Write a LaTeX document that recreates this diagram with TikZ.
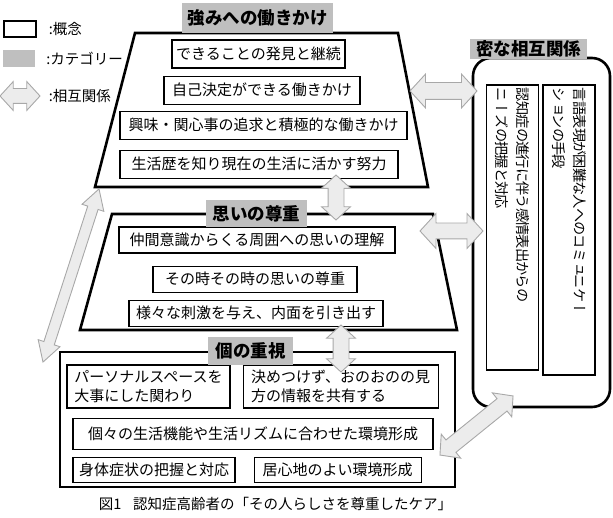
\documentclass[tikz,border=0pt]{standalone}
\usepackage{fontspec}
\setmainfont{Noto Sans CJK JP}
\newfontfamily\vjp[Vertical=RotatedGlyphs,LetterSpace=-6]{Noto Sans CJK JP}
\usetikzlibrary{positioning,shapes.arrows}
\definecolor{catgray}{HTML}{BFBFBF}
\definecolor{arrfill}{HTML}{ECECEC}
\definecolor{arredge}{HTML}{A8A8A8}
\tikzset{
  frame/.style={draw,line width=2.6pt},
  box/.style={draw,line width=1.1pt,fill=white,inner sep=0pt,minimum height=28pt,font=\fontsize{15}{19}\selectfont},
  vbox/.style={box,rotate=-90,align=left,inner xsep=3pt,minimum height=52pt,font=\vjp\fontsize{14.2}{21}\selectfont},
  cat/.style={fill=catgray,inner sep=0pt,font=\bfseries\fontsize{17.5}{20}\selectfont},
  lgd/.style={inner sep=0pt,font=\fontsize{14.5}{16}\selectfont},
  dbl/.style={double arrow,draw=arredge,fill=arrfill,line width=0.9pt,inner xsep=0pt,double arrow tip angle=95},
}
\begin{document}
\begin{tikzpicture}[x=1pt,y=-1pt]
\useasboundingbox (0,0) rectangle (613,518);
\node[draw,line width=1.1pt,minimum width=32pt,minimum height=16pt,inner sep=0pt] (k1) at (20,29) {};
\node[lgd,right=12pt of k1] (k1t) {:概念};
\node[fill=catgray,minimum width=32pt,minimum height=17pt,inner sep=0pt] (k2) at (19,58.5) {};
\node[lgd,right=11pt of k2] (k2t) {:カテゴリー};
\node[dbl,minimum height=40pt,inner ysep=7pt,double arrow head extend=7pt] (k3) at (20,96) {};
\node[lgd,right=8pt of k3] (k3t) {:相互関係};
\draw[frame] (135,33) -- (398,33) -- (428,187) -- (95,187) -- cycle;
\draw[frame] (112,214) -- (433,214) -- (457,330) -- (80,330) -- cycle;
\draw[frame] (60,352) rectangle (455,487);
\node[frame,rounded corners=18pt,minimum width=137pt,minimum height=349pt] (rel) at (541.5,232.5) {};
\node[box,minimum width=173pt] (s1) at (258.5,54) {できることの発見と継続};
\node[box,minimum width=196pt,below=7pt of s1,xshift=3.5pt] (s2) {自己決定ができる働きかけ};
\node[box,minimum width=287pt,below=6pt of s2,xshift=1.5pt] (s3) {興味・関心事の追求と積極的な働きかけ};
\node[box,minimum width=278pt,below=10pt of s3,xshift=-4.5pt] (s4) {生活歴を知り現在の生活に活かす努力};
\node[box,minimum width=276pt,minimum height=26pt] (m1) at (257,240) {仲間意識からくる周囲への思いの理解};
\node[box,minimum width=204pt,minimum height=26pt,below=12pt of m1,xshift=-2pt] (m2) {その時その時の思いの尊重};
\node[box,minimum width=254pt,minimum height=26pt,below=7pt of m2,xshift=1pt] (m3) {様々な刺激を与え、内面を引き出す};
\node[box,minimum width=163pt,minimum height=43pt,align=left,font=\fontsize{15}{18.5}\selectfont] (b1) at (148.5,386.5) {パーソナルスペースを\\大事にした関わり};
\node[box,minimum width=195pt,minimum height=43pt,align=left,font=\fontsize{15}{18.5}\selectfont,right=12pt of b1] (b2) {決めつけず、おのおのの見\\方の情報を共有する};
\node[box,minimum width=360pt,minimum height=31pt,below right=9pt and 6pt of b1.south west] (b3) {個々の生活機能や生活リズムに合わせた環境形成};
\node[box,minimum width=162pt,minimum height=25pt,below right=7pt and 0pt of b3.south west] (b4) {身体症状の把握と対応};
\node[box,minimum width=167pt,minimum height=25pt,right=18pt of b4] (b5) {居心地のよい環境形成};
\node[vbox,minimum width=290pt,text width=284pt] (va) at (569,230) {言語表現が困難な人へのコミュニケー\\ションの手段};
\node[vbox,minimum width=285pt,text width=279pt] (vb) at (512.5,227.5) {認知症の進行に伴う感情表出からの\\ニーズの把握と対応};
\node[cat,minimum width=151pt,minimum height=30pt] (c1) at (257.5,18) {強みへの働きかけ};
\node[cat,minimum width=101pt,minimum height=27pt] (c2) at (256.5,213.5) {思いの尊重};
\node[cat,minimum width=85pt,minimum height=28pt] (c3) at (250.5,351) {個の重視};
\node[cat,minimum width=117pt,minimum height=20pt] (c4) at (528.5,49) {密な相互関係};
\coordinate (p1) at (410,91); \coordinate (q1) at (477,91);
\coordinate (p2) at (336,175); \coordinate (q2) at (336,220);
\coordinate (p3) at (420,231); \coordinate (q3) at (483,231);
\coordinate (p4) at (341,325); \coordinate (q4) at (341,372);
\coordinate (p5) at (440,455); \coordinate (q5) at (513,396);
\coordinate (p6) at (43,362); \coordinate (q6) at (99,189);
\path (p1) -- (q1) node[dbl,midway,sloped,minimum height=67pt,inner ysep=8pt,double arrow head extend=8.5pt] (h1) {};
\path (p2) -- (q2) node[dbl,midway,sloped,minimum height=45pt,inner ysep=7.5pt,double arrow head extend=6.5pt] (h2) {};
\path (p3) -- (q3) node[dbl,midway,sloped,minimum height=63pt,inner ysep=7.5pt,double arrow head extend=9.5pt] (h3) {};
\path (p4) -- (q4) node[dbl,midway,sloped,minimum height=47pt,inner ysep=7.5pt,double arrow head extend=6.5pt] (h4) {};
\path (p5) -- (q5) node[dbl,midway,sloped,minimum height=94pt,inner ysep=7.5pt,double arrow head extend=7.5pt] (h5) {};
\path (p6) -- (q6) node[dbl,midway,sloped,minimum height=182pt,inner ysep=5pt,double arrow head extend=6pt,double arrow tip angle=60] (h6) {};
\node[font=\fontsize{14.5}{16}\selectfont] (cap) at (275.5,504) {図1\hspace{0.8em}認知症高齢者の「その人らしさを尊重したケア」};
\end{tikzpicture}
\end{document}
